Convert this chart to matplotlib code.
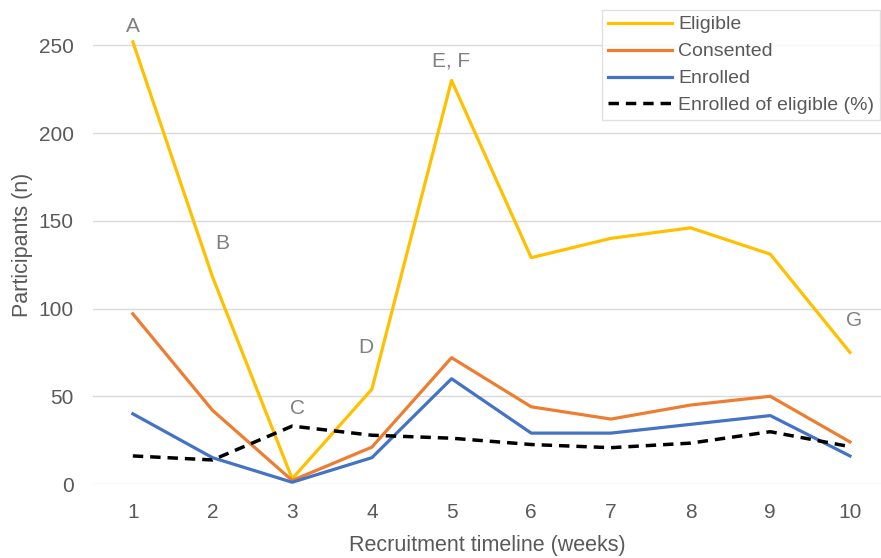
import matplotlib.pyplot as plt

plt.rcParams['font.family'] = ['Liberation Sans', 'DejaVu Sans']

weeks = [1, 2, 3, 4, 5, 6, 7, 8, 9, 10]
eligible = [252, 118, 3, 54, 230, 129, 140, 146, 131, 75]
consented = [97, 42, 2, 21, 72, 44, 37, 45, 50, 24]
enrolled = [40, 15, 1, 15, 60, 29, 29, 34, 39, 16]
enrolled_pct = [16, 13.7, 33, 27.8, 26.1, 22.5, 20.7, 23.3, 29.8, 21.3]

# letter labels at (week, y)
notes = ['A', 'B', 'C', 'D', 'E, F', 'G']
note_x = [1, 2.12, 3.07, 3.93, 5.0, 10.05]
note_y = [261, 137, 43, 78, 241, 93]

txt = '#595959'

fig = plt.figure(figsize=(8.81, 5.58), dpi=100)
ax = fig.add_axes([93 / 881, 74 / 558, (881 - 93) / 881, (484 - 5) / 558])

ax.plot(weeks, eligible, color='#FFC000', lw=2.3, label='Eligible')
ax.plot(weeks, consented, color='#ED7D31', lw=2.3, label='Consented')
ax.plot(weeks, enrolled, color='#4472C4', lw=2.3, label='Enrolled')
ax.plot(weeks, enrolled_pct, color='black', lw=2.5, ls=(0, (3, 2)),
        label='Enrolled of eligible (%)')

for t, x, y in zip(notes, note_x, note_y):
    ax.text(x, y, t, color='#808080', fontsize=15, ha='center', va='center')

ax.set_xlim(0.5, 10.39)
ax.set_ylim(0, 273)
ax.set_xticks(weeks)
ax.set_yticks([0, 50, 100, 150, 200, 250])
ax.grid(axis='y', color='#D9D9D9', lw=1)
ax.set_axisbelow(True)
for s in ax.spines.values():
    s.set_visible(False)
ax.tick_params(length=0, labelsize=15, labelcolor=txt)
ax.tick_params(axis='x', pad=14)
ax.tick_params(axis='y', pad=14)
ax.set_xlabel('Recruitment timeline (weeks)', fontsize=15.5, color=txt, labelpad=9)
ax.set_ylabel('Participants (n)', fontsize=15.5, color=txt, labelpad=4)

leg = ax.legend(loc='upper right', bbox_to_anchor=(0.9985, 0.9896), fontsize=14,
                frameon=True, fancybox=False, edgecolor='#D9D9D9',
                handlelength=3.3, handletextpad=0.3, borderpad=0.3,
                labelspacing=0.48, borderaxespad=0.0)
leg.get_frame().set_linewidth(1)
for t in leg.get_texts():
    t.set_color(txt)

fig.savefig('out.png', dpi=100)
